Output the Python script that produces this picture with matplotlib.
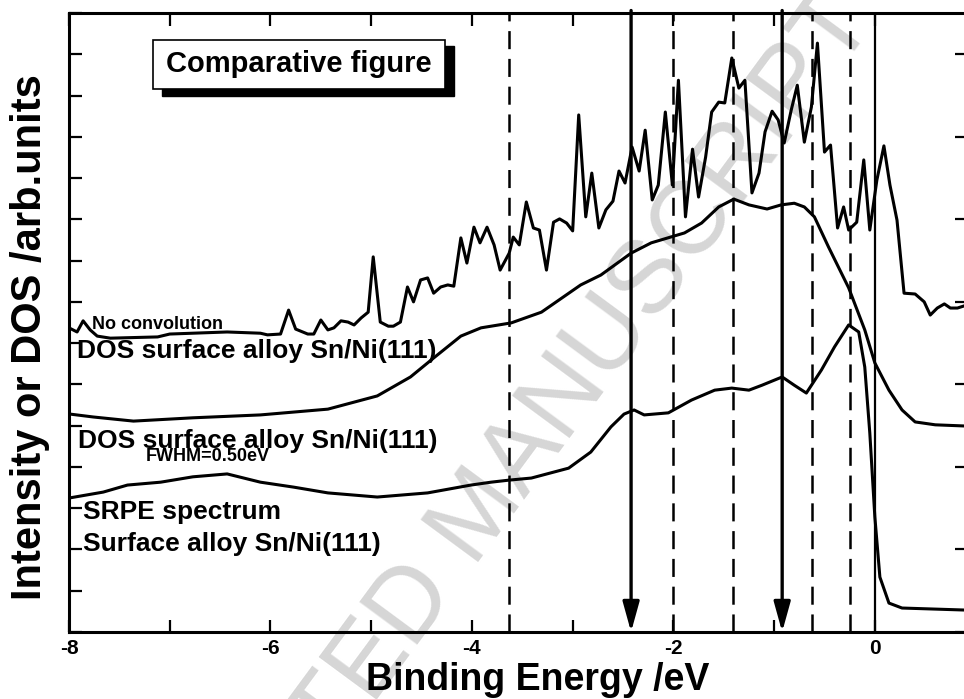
import matplotlib
matplotlib.use('Agg')
import matplotlib.pyplot as plt
from matplotlib.patches import Rectangle
from matplotlib.ticker import MultipleLocator

# DOS without convolution (spiky)
raw_e = [-8.00, -7.92, -7.86, -7.79, -7.72, -7.59, -7.12, -7.00, -6.43, -6.10,
         -6.03, -5.90, -5.82, -5.75, -5.63, -5.57, -5.50, -5.43, -5.37, -5.30,
         -5.23, -5.17, -5.10, -5.03, -4.98, -4.91, -4.83, -4.78, -4.71, -4.64,
         -4.58, -4.51, -4.44, -4.38, -4.31, -4.24, -4.18, -4.11, -4.05, -3.98,
         -3.92, -3.85, -3.78, -3.72, -3.63, -3.59, -3.53, -3.46, -3.39, -3.33,
         -3.26, -3.19, -3.13, -3.06, -3.00, -2.94, -2.87, -2.81, -2.74, -2.67,
         -2.60, -2.54, -2.48, -2.41, -2.34, -2.28, -2.21, -2.15, -2.08, -2.01,
         -1.95, -1.88, -1.81, -1.75, -1.68, -1.62, -1.55, -1.49, -1.42, -1.35,
         -1.29, -1.22, -1.15, -1.09, -1.02, -0.96, -0.90, -0.83, -0.77, -0.70,
         -0.63, -0.57, -0.50, -0.44, -0.37, -0.31, -0.26, -0.18, -0.11, -0.05,
         0.02, 0.09, 0.15, 0.22, 0.29, 0.40, 0.49, 0.55, 0.62, 0.69,
         0.75, 0.82, 0.91]
raw_dos = [7.37, 7.27, 7.54, 7.32, 7.17, 7.12, 7.15, 7.22, 7.27, 7.24,
           7.20, 7.22, 7.80, 7.34, 7.22, 7.22, 7.56, 7.32, 7.37, 7.54,
           7.51, 7.44, 7.61, 7.75, 9.09, 7.51, 7.41, 7.41, 7.51, 8.36,
           8.00, 8.53, 8.58, 8.21, 8.36, 8.41, 8.38, 9.55, 8.94, 9.81,
           9.43, 9.81, 9.38, 8.77, 9.18, 9.57, 9.38, 10.42, 9.79, 9.74,
           8.77, 9.93, 10.01, 9.91, 9.72, 12.53, 10.06, 11.12, 9.79, 10.23,
           10.44, 11.17, 10.88, 11.75, 11.17, 12.16, 10.47, 10.83, 12.60, 10.83,
           13.37, 10.06, 11.70, 10.54, 11.51, 12.60, 12.84, 12.82, 13.91, 13.18,
           13.37, 10.64, 11.12, 12.12, 12.62, 12.41, 11.85, 12.65, 13.25, 11.87,
           12.72, 14.27, 11.63, 11.80, 9.79, 10.30, 9.74, 9.93, 11.44, 9.74,
           10.95, 11.78, 10.83, 9.98, 8.21, 8.19, 8.00, 7.68, 7.85, 7.95,
           7.85, 7.85, 7.92]

# DOS convolved with FWHM = 0.50 eV
conv_e = [-7.99, -7.76, -7.36, -6.77, -6.10, -5.43, -4.94, -4.61, -4.38, -4.11,
          -3.91, -3.61, -3.31, -2.92, -2.72, -2.42, -2.22, -1.89, -1.72, -1.55,
          -1.40, -1.25, -1.07, -0.93, -0.80, -0.70, -0.60, -0.46, -0.26, -0.10,
          0.00, 0.14, 0.27, 0.40, 0.60, 0.91]
conv_dos = [5.28, 5.21, 5.11, 5.19, 5.26, 5.40, 5.72, 6.18, 6.64, 7.17,
            7.37, 7.49, 7.75, 8.41, 8.65, 9.18, 9.43, 9.67, 9.91, 10.30,
            10.49, 10.35, 10.25, 10.35, 10.39, 10.30, 10.06, 9.33, 8.34, 7.32,
            6.52, 5.86, 5.38, 5.09, 5.02, 4.99]

# SRPE spectrum
srpe_e = [-7.99, -7.66, -7.42, -7.09, -6.77, -6.43, -6.10, -5.77, -5.43, -4.94,
          -4.44, -4.01, -3.81, -3.63, -3.41, -3.04, -2.82, -2.62, -2.49, -2.39,
          -2.29, -2.05, -1.82, -1.59, -1.42, -1.25, -1.12, -0.92, -0.80, -0.68,
          -0.53, -0.40, -0.26, -0.16, -0.10, -0.05, 0.00, 0.05, 0.14, 0.27, 0.91]
srpe_int = [3.25, 3.39, 3.56, 3.63, 3.76, 3.83, 3.63, 3.51, 3.37, 3.27,
            3.37, 3.56, 3.63, 3.68, 3.73, 3.97, 4.36, 4.97, 5.28, 5.38,
            5.26, 5.31, 5.62, 5.86, 5.91, 5.86, 5.98, 6.18, 5.98, 5.79,
            6.35, 6.91, 7.44, 7.27, 6.42, 4.82, 2.79, 1.33, 0.70, 0.58, 0.53]

dashed_e = [-3.63, -2.0, -1.41, -0.62, -0.25]
arrow_e = [-2.42, -0.92]
fermi_e = 0.0

plt.rcParams['font.family'] = ['Liberation Sans', 'DejaVu Sans']
plt.rcParams['font.weight'] = 'bold'
plt.rcParams['lines.scale_dashes'] = False
plt.rcParams['axes.unicode_minus'] = False

fig = plt.figure(figsize=(9.64, 6.99), dpi=100)
ax = fig.add_axes([0.0716, 0.0959, 0.931, 0.8855])

lw = 2.2
ax.plot(raw_e, raw_dos, color='black', lw=lw, zorder=3)
ax.plot(conv_e, conv_dos, color='black', lw=lw, zorder=3)
ax.plot(srpe_e, srpe_int, color='black', lw=lw, zorder=3)

for e in dashed_e:
    ax.plot([e, e], [0, 15], color='black', lw=1.8, dashes=(13, 7), zorder=2)
ax.plot([fermi_e, fermi_e], [0, 15], color='black', lw=1.6, zorder=2)
for e in arrow_e:
    ax.annotate('', xy=(e, 0), xytext=(e, 15.06), annotation_clip=False,
                arrowprops=dict(arrowstyle='-|>,head_length=0.65,head_width=0.18',
                                lw=2.4, color='black', mutation_scale=28,
                                shrinkA=0, shrinkB=0), zorder=4)

ax.set_xlim(-8, 0.91)
ax.set_ylim(0, 15)
ax.xaxis.set_major_locator(MultipleLocator(2))
ax.xaxis.set_minor_locator(MultipleLocator(1))
ax.yaxis.set_major_locator(MultipleLocator(2))
ax.yaxis.set_minor_locator(MultipleLocator(1))
ax.tick_params(which='both', direction='in', length=9, width=1.6,
               top=True, right=True, labelleft=False)
ax.tick_params(which='minor', right=False)
ax.tick_params(axis='x', labelsize=15, pad=5)
for s in ax.spines.values():
    s.set_linewidth(2.2)

# "Comparative figure" box with drop shadow
ax.add_patch(Rectangle((-7.08, 13.0), 2.9, 1.19, facecolor='black',
                       edgecolor='black', zorder=5))
ax.add_patch(Rectangle((-7.17, 13.16), 2.9, 1.19, facecolor='white',
                       edgecolor='black', lw=1.2, zorder=6))
ax.text(-5.72, 13.76, 'Comparative figure', ha='center', va='center',
        fontsize=21, zorder=7)

ax.text(-7.77, 7.34, 'No convolution', fontsize=13, va='baseline', zorder=7)
ax.text(-7.92, 6.80, 'DOS surface alloy Sn/Ni(111)', fontsize=19, va='center', zorder=7)
ax.text(-7.91, 4.62, 'DOS surface alloy Sn/Ni(111)', fontsize=19, va='center', zorder=7)
ax.text(-7.24, 4.25, 'FWHM=0.50eV', fontsize=13, va='center', zorder=7)
ax.text(-7.86, 2.91, 'SRPE spectrum', fontsize=19, va='center', zorder=7)
ax.text(-7.86, 2.13, 'Surface alloy Sn/Ni(111)', fontsize=19, va='center', zorder=7)

ax.text(0.498, 0.262, 'ACCEPTED MANUSCRIPT', transform=fig.transFigure,
        rotation=53.6, rotation_mode='anchor', fontsize=74,
        fontweight='normal', color='#d6d6d6',
        ha='center', va='center', zorder=0, clip_on=False)

fig.text(0.031, 0.518, 'Intensity or DOS /arb.units', rotation=90,
         fontsize=30, ha='center', va='center')
fig.text(0.558, 0.027, 'Binding Energy /eV', fontsize=27,
         ha='center', va='center')

fig.savefig('out.png', dpi=100)
